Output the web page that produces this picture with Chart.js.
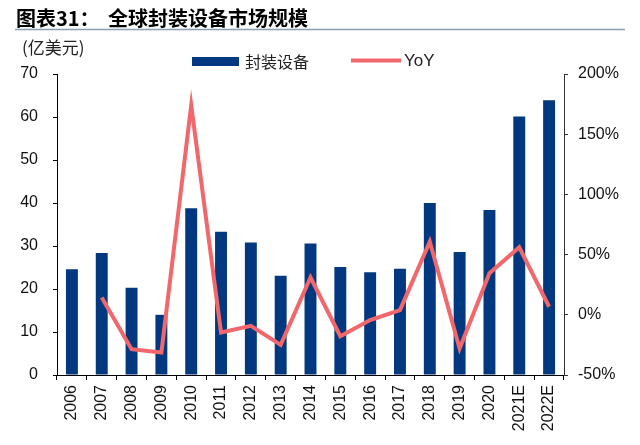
<!DOCTYPE html>
<html>
<head>
<meta charset="utf-8">
<script src="https://cdn.jsdelivr.net/npm/chart.js@4.4.1/dist/chart.umd.min.js"></script>
<style>
  html, body { margin: 0; padding: 0; background: #fff; }
  #wrap { position: relative; width: 640px; height: 445px; }
</style>
</head>
<body>
<div id="wrap"><canvas id="myCanvas" width="640" height="445"></canvas></div>
<script>
// data
const years = ['2006','2007','2008','2009','2010','2011','2012','2013','2014','2015','2016','2017','2018','2019','2020','2021E','2022E'];
const equipment = [24.6, 28.4, 20.3, 14.0, 38.8, 33.3, 30.8, 23.1, 30.6, 25.1, 23.9, 24.7, 40.0, 28.6, 38.4, 60.1, 63.9];
const yoy = [null, 14.4, -28.6, -31.4, 174, -14.7, -9.2, -25, 31, -17.8, -4.4, 3.9, 60.8, -28, 34.5, 56.1, 6.7];
const leftTicks = [0, 70, 10];
const rightTicks = [-50, 200, 50];

const barColor = '#02387F',
  lineColor = '#F2676B',
  txtFont = '"Liberation Sans", Arial, sans-serif',
  cjkFont = '"Noto Sans CJK SC", sans-serif';

// title, rule, unit and legend
const header = {
  id: 'header',
  afterDraw(chart){
    const c = chart.ctx;
    c.save();
    c.textBaseline = 'middle';
    c.fillStyle = '#000';
    c.font = 'bold 20px ' + cjkFont;
    c.fillText('图表31：', 16, 18);
    c.fillText('全球封装设备市场规模', 108, 18);

    c.strokeStyle = '#8C9DB4';
    c.lineWidth = 1.5;
    c.beginPath();
    c.moveTo(15, 29.5);
    c.lineTo(625, 29.5);
    c.stroke();

    c.fillStyle = '#222';
    c.font = '17px ' + cjkFont;
    c.fillText('(亿美元)', 22, 48);

    // legend
    const ds = chart.data.datasets;
    c.fillStyle = barColor;
    c.fillRect(192, 57, 47, 9);
    c.fillStyle = '#222';
    c.font = '16px ' + cjkFont;
    c.fillText(ds[1].label, 245, 62);

    c.strokeStyle = lineColor;
    c.lineWidth = 4;
    c.beginPath();
    c.moveTo(351, 60.5);
    c.lineTo(401, 60.5);
    c.stroke();
    c.font = '17px ' + txtFont;
    c.fillText(ds[0].label, 404, 61);
    c.restore();
  }
};

const ctx = document.querySelector('#myCanvas').getContext('2d');
const myChart = new Chart(ctx, {
  type: 'bar',
  data: {
    labels: years,
    datasets: [{
      type: 'line',
      label: 'YoY',
      data: yoy,
      yAxisID: 'y1',
      borderColor: lineColor,
      backgroundColor: lineColor,
      borderWidth: 4,
      pointRadius: 0,
      tension: 0,
      order: 0
    },{
      label: '封装设备',
      data: equipment,
      yAxisID: 'y',
      backgroundColor: barColor,
      barPercentage: 0.4,
      categoryPercentage: 1,
      order: 1
    }]
  },
  options: {
    responsive: false,
    animation: false,
    devicePixelRatio: 1,
    layout: { padding: { top: 74, left: 0, right: 0, bottom: 0 } },
    plugins: { legend: { display: false }, tooltip: { enabled: false } },
    scales: {
      x: {
        afterFit: (s) => { s.height = 70; },
        grid: { drawOnChartArea: false, drawTicks: true, tickLength: 5, color: '#000', offset: true },
        border: { color: '#000', width: 1 },
        ticks: { minRotation: 90, maxRotation: 90, padding: 5, color: '#111', font: { family: txtFont, size: 16 } }
      },
      y: {
        position: 'left',
        min: leftTicks[0], max: leftTicks[1],
        afterFit: (s) => { s.width = 57; },
        grid: { drawOnChartArea: false, drawTicks: true, tickLength: 4, color: '#000' },
        border: { color: '#000', width: 1 },
        ticks: { stepSize: leftTicks[2], padding: 15, color: '#111', font: { family: txtFont, size: 16 } }
      },
      y1: {
        position: 'right',
        min: rightTicks[0], max: rightTicks[1],
        afterFit: (s) => { s.width = 76; },
        grid: { drawOnChartArea: false, drawTicks: true, tickLength: 4, color: '#333' },
        border: { color: '#333', width: 1 },
        ticks: { stepSize: rightTicks[2], padding: 10, color: '#111', font: { family: txtFont, size: 16 },
          callback: (v) => v + '%' }
      }
    }
  },
  plugins: [header]
});
</script>
</body>
</html>
